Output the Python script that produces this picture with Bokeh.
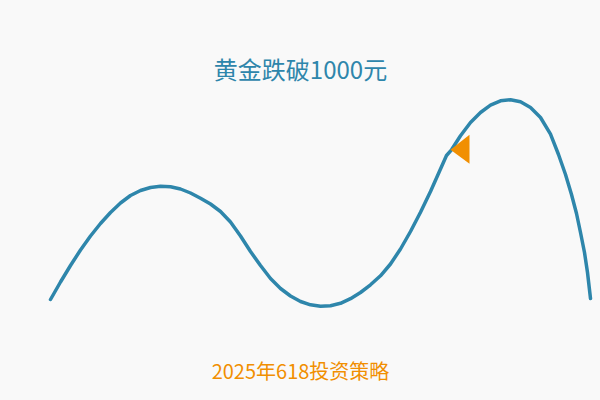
from bokeh.plotting import figure
from bokeh.models import Range1d
from bokeh.core.properties import value
from bokeh.embed import file_html
from bokeh.resources import INLINE

curve_x = [50, 60, 70, 80, 90, 100, 110, 120, 130, 140, 150, 160, 170, 180, 190,
           200, 210, 220, 230, 240, 250, 260, 270, 280, 290, 300, 310, 320, 330,
           340, 350, 360, 370, 380, 390, 400, 410, 420, 430, 440, 446, 451,
           460, 470, 480, 490, 500, 510, 520, 530, 540, 550, 558, 565, 571,
           576, 580, 584, 587, 590]
curve_py = [299, 281.5, 265, 249.5, 235.5, 223, 212, 202.5, 195, 190, 187, 185.8,
            186.3, 188.5, 192.5, 197.7, 203.5, 211, 221.5, 235.5, 251, 265, 278,
            288, 295.5, 301, 304.3, 305.8, 305.3, 302.8, 298.2, 292, 284.3, 275.3,
            263.5, 248.5, 231, 211.7, 191, 168.5, 155, 149.3,
            135.3, 122, 112, 104.7, 100.3, 99.3, 101.3, 107, 117, 133.7, 154,
            174, 194, 213, 232, 252, 272, 298]
curve_y = [400 - v for v in curve_py]

highlight_index = 41          # point marked by the orange arrow
title_text = "黄金跌破1000元"
subtitle_text = "2025年618投资策略"

# ---- styles ----
BG = "#f9f9f9"
BLUE = "#2E86AB"
ORANGE = "#F18F01"
FONT = "Noto Sans CJK SC"

p = figure(width=600, height=400, output_backend="svg", toolbar_location=None,
           x_range=Range1d(0, 600), y_range=Range1d(0, 400),
           min_border=0, background_fill_color=BG, border_fill_color=BG,
           outline_line_color=None)
p.axis.visible = False
p.grid.visible = False

p.line(curve_x, curve_y, line_color=BLUE, line_width=3.5,
       line_cap="round", line_join="round")

# arrow-like marker pointing left at the highlighted point
hx, hy = curve_x[highlight_index], curve_y[highlight_index]
tri_w, tri_up, tri_down = 19, 15, 14
p.patch([hx - 1, hx - 1 + tri_w, hx - 1 + tri_w], [hy, hy + tri_up, hy - tri_down],
        fill_color=ORANGE, line_color=None)

p.text(x=[300], y=[400 - 68], text=[title_text], text_font=value(FONT),
       text_font_size="24px", text_color=BLUE, text_align="center",
       text_baseline="middle")
p.text(x=[300], y=[400 - 370], text=[subtitle_text], text_font=value(FONT),
       text_font_size="20px", text_color=ORANGE, text_align="center",
       text_baseline="middle")

template = """{% block postamble %}<style>html, body { background-color: #f9f9f9; }</style>{% endblock %}"""
open("out.html", "w").write(file_html(p, INLINE, template=template))
